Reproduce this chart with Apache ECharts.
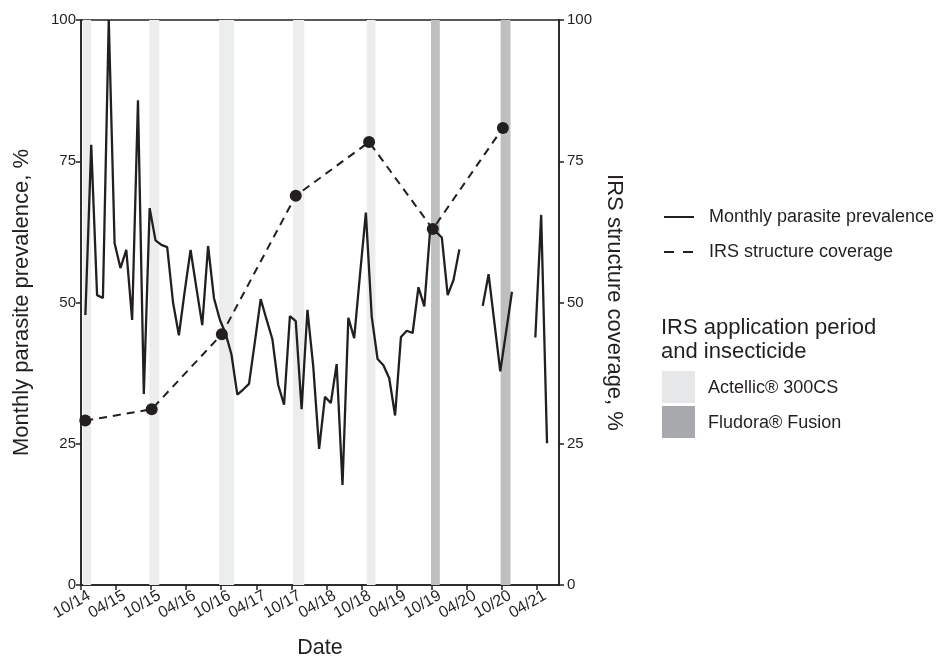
<!DOCTYPE html>
<html>
<head>
<meta charset="utf-8">
<script src="https://cdn.jsdelivr.net/npm/echarts@6/dist/echarts.min.js"></script>
<style>html,body{margin:0;padding:0;background:#fff;}#chart{width:938px;height:658px;}</style>
</head>
<body>
<div id="chart"></div>
<script>
// x is measured in months since Oct 2014 (tick "10/14" = 0)
var tickMonths = [0, 6, 12, 18, 24, 30, 36, 42, 48, 54, 60, 66, 72, 78];
var tickLabels = ['10/14','04/15','10/15','04/16','10/16','04/17','10/17','04/18','10/18','04/19','10/19','04/20','10/20','04/21'];

// Monthly parasite prevalence, first value at month offset 0.75, one per month
var prevalenceStart = 0.75;
var prevalence = [
  47.8, 77.9, 51.3, 50.8, 100, 60.5, 56.1, 59.3, 46.9, 85.8,
  33.8, 66.7, 61.0, 60.2, 59.8, 50.0, 44.2, 52.0, 59.3, 52.6,
  46.0, 60.0, 50.8, 47.0, 44.5, 40.8, 33.7, 34.6, 35.6, 43.0,
  50.6, 47.0, 43.5, 35.4, 31.9, 47.6, 46.7, 31.1, 48.7, 38.6,
  24.1, 33.3, 32.2, 39.1, 17.7, 47.3, 43.7, 55.0, 65.9, 47.5,
  40.0, 38.9, 36.6, 30.0, 43.9, 45.0, 44.6, 52.7, 49.3, 62.8,
  62.5, 61.5, 51.3, 54.0, 59.4, null, null, null, 49.4, 55.0,
  46.4, 37.8, 44.8, 51.9, null, null, null, 43.8, 65.5, 25.1
];

// IRS structure coverage (right axis)
var coverageMonths = [0.73, 12.1, 24.1, 36.75, 49.3, 60.2, 72.2];
var coverage = [29.1, 31.1, 44.4, 68.9, 78.4, 63.0, 80.9];

// IRS application periods [start, end] in months, with insecticide
var bandStarts = [0.34, 11.68, 23.64, 36.3, 48.9, 59.9, 71.8];
var bandEnds   = [1.74, 13.39, 26.2, 38.2, 50.4, 61.4, 73.5];
var bandInsecticide = ['Actellic® 300CS','Actellic® 300CS','Actellic® 300CS','Actellic® 300CS','Actellic® 300CS','Fludora® Fusion','Fludora® Fusion'];

var bandColor = {'Actellic® 300CS': '#eceeed', 'Fludora® Fusion': '#bebfc1'};
var swatchColor = {'Actellic® 300CS': '#e6e7e8', 'Fludora® Fusion': '#a7a9ac'};
var ink = '#231f20';
var font = '"Liberation Sans", Arial, Helvetica, sans-serif';

var prevData = prevalence.map(function (v, i) { return [prevalenceStart + i, v]; });
var covData = coverage.map(function (v, i) { return [coverageMonths[i], v]; });
var areas = bandStarts.map(function (s, i) {
  return [{ xAxis: s, itemStyle: { color: bandColor[bandInsecticide[i]] } }, { xAxis: bandEnds[i] }];
});

var chart = echarts.init(document.getElementById('chart'), null, { renderer: 'canvas' });
chart.setOption({
  backgroundColor: '#ffffff',
  textStyle: { fontFamily: font },
  animation: false,
  grid: { left: 81, right: 379, top: 20, bottom: 73, outerBoundsMode: 'none', containLabel: false,
          show: true, borderColor: ink, borderWidth: 1.5, backgroundColor: 'transparent' },
  xAxis: {
    type: 'value', min: 0, max: 81.8,
    name: 'Date', nameLocation: 'middle', nameGap: 52,
    nameTextStyle: { fontSize: 21.5, color: ink, fontFamily: font },
    splitLine: { show: false },
    axisLine: { show: true, lineStyle: { color: ink, width: 1.5 } },
    axisTick: { show: true, length: 5, lineStyle: { color: ink, width: 1.5 }, customValues: tickMonths },
    axisLabel: {
      customValues: tickMonths, rotate: 30, fontSize: 16, color: ink, margin: 5, fontFamily: font,
      verticalAlign: 'top', padding: [0, -5, 0, 0],
      formatter: function (v) { var k = tickMonths.indexOf(Math.round(v)); return k >= 0 ? tickLabels[k] : ''; }
    }
  },
  yAxis: [{
    type: 'value', min: 0, max: 100, interval: 25, position: 'left',
    name: 'Monthly parasite prevalence, %', nameLocation: 'middle', nameGap: 48, nameRotate: 90,
    nameTextStyle: { fontSize: 22, color: ink, fontFamily: font },
    splitLine: { show: false },
    axisLine: { show: true, lineStyle: { color: ink, width: 1.5 } },
    axisTick: { show: true, length: 5, lineStyle: { color: ink, width: 1.5 } },
    axisLabel: { fontSize: 15, color: ink, margin: 5, fontFamily: font }
  }, {
    type: 'value', min: 0, max: 100, interval: 25, position: 'right',
    name: 'IRS structure coverage, %', nameLocation: 'middle', nameGap: 40, nameRotate: -90,
    nameTextStyle: { fontSize: 22, color: ink, fontFamily: font },
    splitLine: { show: false },
    axisLine: { show: true, lineStyle: { color: ink, width: 1.5 } },
    axisTick: { show: true, length: 5, lineStyle: { color: ink, width: 1.5 } },
    axisLabel: { fontSize: 15, color: ink, margin: 8, fontFamily: font }
  }],
  legend: {
    orient: 'vertical', left: 663, top: 208, padding: 0, itemWidth: 30, itemHeight: 22, itemGap: 17,
    itemStyle: { opacity: 0 },
    textStyle: { fontSize: 18, color: ink, fontFamily: font, padding: [0, 0, 0, 10] },
    data: [
      { name: 'Monthly parasite prevalence' },
      { name: 'IRS structure coverage', lineStyle: { type: [10, 9] } }
    ]
  },
  series: [{
    name: 'Monthly parasite prevalence', type: 'line', yAxisIndex: 0,
    data: prevData, showSymbol: false, symbol: 'none', connectNulls: false,
    lineStyle: { color: ink, width: 2.3, type: 'solid' }, itemStyle: { color: ink },
    z: 3,
    markArea: { silent: true, data: areas, itemStyle: { opacity: 1 } }
  }, {
    name: 'IRS structure coverage', type: 'line', yAxisIndex: 1,
    data: covData, symbol: 'none',
    lineStyle: { color: ink, width: 2, type: [8, 6] }, itemStyle: { color: ink },
    z: 4
  }, {
    name: 'coverage points', type: 'scatter', yAxisIndex: 1,
    data: covData, symbol: 'circle', symbolSize: 12,
    itemStyle: { color: ink, opacity: 1 }, z: 5, silent: true
  }],
  graphic: [
    { type: 'text', left: 661, top: 316, style: { text: 'IRS application period\nand insecticide', fontSize: 22, lineHeight: 24, fill: ink, fontFamily: font } },
    { type: 'rect', left: 662, top: 371, shape: { width: 33, height: 32 }, style: { fill: swatchColor['Actellic® 300CS'] } },
    { type: 'text', left: 708, top: 379, style: { text: 'Actellic® 300CS', fontSize: 18, fill: ink, fontFamily: font } },
    { type: 'rect', left: 662, top: 406, shape: { width: 33, height: 32 }, style: { fill: swatchColor['Fludora® Fusion'] } },
    { type: 'text', left: 708, top: 414, style: { text: 'Fludora® Fusion', fontSize: 18, fill: ink, fontFamily: font } }
  ]
});
</script>
</body>
</html>
